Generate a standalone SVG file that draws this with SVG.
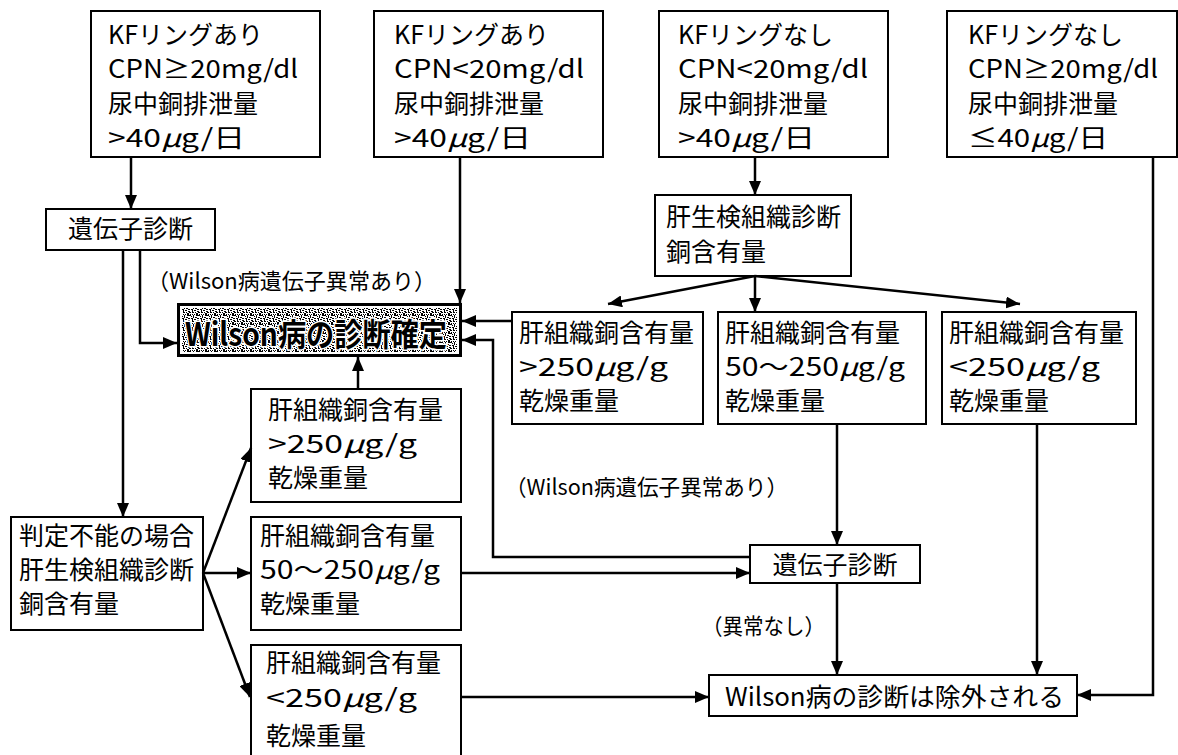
<svg xmlns="http://www.w3.org/2000/svg" width="1178" height="755" viewBox="0 0 1178 755">
<style>
.box{fill:#fff;stroke:#000;stroke-width:2}
.t{font-family:"Noto Sans CJK JP","Noto Sans",sans-serif;font-size:25px;fill:#000}
.lb{font-family:"Noto Sans CJK JP","Noto Sans",sans-serif;font-size:22px;fill:#000}
.c{fill:none;stroke:#000;stroke-width:2.5}
.mu{font-style:italic}
</style>
<defs>
<marker id="ah" markerWidth="14" markerHeight="12" refX="14" refY="6" orient="auto" markerUnits="userSpaceOnUse"><path d="M0 0L14 6L0 12z" fill="#000"/></marker>
<pattern id="speck" width="9" height="9" patternUnits="userSpaceOnUse">
<rect width="9" height="9" fill="#fff"/>
<path d="M0 0h2v1h-2zM4 1h1v2h-1zM7 0h2v1h-2zM2 3h2v1h-2zM6 4h1v1h-1zM0 5h1v2h-1zM3 6h2v1h-2zM7 7h2v2h-2zM5 8h1v1h-1zM1 8h1v1h-1zM8 3h1v1h-1zM5 4h1v1h-1zM2 1h1v1h-1zM6 2h2v1h-2zM0 3h1v1h-1zM3 4h1v2h-1zM8 5h1v1h-1zM1 6h1v1h-1zM6 6h1v1h-1zM3 8h1v1h-1zM4 0h1v1h-1z" fill="#000"/>
</pattern>
</defs>
<rect width="1178" height="755" fill="#fff"/>

<g id="b1"><rect class="box" x="91" y="11" width="229" height="146"/>
<text class="t" x="108" y="44">KFリングあり</text>
<text class="t" x="108" y="78" textLength="190" lengthAdjust="spacingAndGlyphs">CPN≥20mg/dl</text>
<text class="t" x="108" y="113">尿中銅排泄量</text>
<text class="t" x="108" y="147" textLength="137" lengthAdjust="spacingAndGlyphs">&gt;40<tspan class="mu">μ</tspan>g/日</text></g>

<g id="b2"><rect class="box" x="374" y="11" width="229" height="146"/>
<text class="t" x="394" y="44">KFリングあり</text>
<text class="t" x="394" y="78" textLength="190" lengthAdjust="spacingAndGlyphs">CPN&lt;20mg/dl</text>
<text class="t" x="394" y="113">尿中銅排泄量</text>
<text class="t" x="394" y="147" textLength="137" lengthAdjust="spacingAndGlyphs">&gt;40<tspan class="mu">μ</tspan>g/日</text></g>

<g id="b3"><rect class="box" x="659" y="11" width="229" height="146"/>
<text class="t" x="678" y="44">KFリングなし</text>
<text class="t" x="678" y="78" textLength="190" lengthAdjust="spacingAndGlyphs">CPN&lt;20mg/dl</text>
<text class="t" x="678" y="113">尿中銅排泄量</text>
<text class="t" x="678" y="147" textLength="137" lengthAdjust="spacingAndGlyphs">&gt;40<tspan class="mu">μ</tspan>g/日</text></g>

<g id="b4"><rect class="box" x="947" y="11" width="230" height="146"/>
<text class="t" x="968" y="44">KFリングなし</text>
<text class="t" x="968" y="78" textLength="190" lengthAdjust="spacingAndGlyphs">CPN≥20mg/dl</text>
<text class="t" x="968" y="113">尿中銅排泄量</text>
<text class="t" x="968" y="147" textLength="140" lengthAdjust="spacingAndGlyphs">≤40<tspan class="mu">μ</tspan>g/日</text></g>

<g id="gL"><rect class="box" x="46" y="209" width="169" height="41"/>
<text class="t" x="130.5" y="238" text-anchor="middle">遺伝子診断</text></g>

<g id="kanse"><rect class="box" x="655" y="195" width="196" height="81"/>
<text class="t" x="666" y="226">肝生検組織診断</text>
<text class="t" x="666" y="261">銅含有量</text></g>

<g id="wilson"><rect x="177" y="303" width="285" height="54" fill="#000"/>
<rect x="180" y="306" width="279" height="48" fill="#fff"/>
<rect x="182" y="308" width="275" height="44" fill="url(#speck)"/>
<text x="185" y="346" textLength="262" lengthAdjust="spacingAndGlyphs" font-family="Noto Sans CJK JP, sans-serif" font-size="32" font-weight="bold" fill="#000" stroke="#fff" stroke-width="3" paint-order="stroke">Wilson病の診断確定</text></g>

<g id="b8"><rect class="box" x="512" y="312" width="191" height="112"/>
<text class="t" x="519" y="342">肝組織銅含有量</text>
<text class="t" x="519" y="376" textLength="149" lengthAdjust="spacingAndGlyphs">&gt;250<tspan class="mu">μ</tspan>g/g</text>
<text class="t" x="519" y="410">乾燥重量</text></g>

<g id="b9"><rect class="box" x="718" y="312" width="208" height="112"/>
<text class="t" x="725" y="342">肝組織銅含有量</text>
<text class="t" x="725" y="376" textLength="180" lengthAdjust="spacingAndGlyphs">50〜250<tspan class="mu">μ</tspan>g/g</text>
<text class="t" x="725" y="410">乾燥重量</text></g>

<g id="b10"><rect class="box" x="942" y="312" width="194" height="112"/>
<text class="t" x="949" y="342">肝組織銅含有量</text>
<text class="t" x="949" y="376" textLength="151" lengthAdjust="spacingAndGlyphs">&lt;250<tspan class="mu">μ</tspan>g/g</text>
<text class="t" x="949" y="410">乾燥重量</text></g>

<g id="b5"><rect class="box" x="251" y="389" width="210" height="113"/>
<text class="t" x="268" y="419">肝組織銅含有量</text>
<text class="t" x="268" y="453" textLength="149" lengthAdjust="spacingAndGlyphs">&gt;250<tspan class="mu">μ</tspan>g/g</text>
<text class="t" x="268" y="487">乾燥重量</text></g>

<g id="hantei"><rect class="box" x="11" y="517" width="192" height="113"/>
<text class="t" x="19" y="545">判定不能の場合</text>
<text class="t" x="19" y="579">肝生検組織診断</text>
<text class="t" x="19" y="613">銅含有量</text></g>

<g id="b6"><rect class="box" x="251" y="517" width="210" height="113"/>
<text class="t" x="260" y="545">肝組織銅含有量</text>
<text class="t" x="260" y="579" textLength="180" lengthAdjust="spacingAndGlyphs">50〜250<tspan class="mu">μ</tspan>g/g</text>
<text class="t" x="260" y="613">乾燥重量</text></g>

<g id="b7"><rect class="box" x="251" y="645" width="210" height="120"/>
<text class="t" x="266" y="672">肝組織銅含有量</text>
<text class="t" x="266" y="707" textLength="151" lengthAdjust="spacingAndGlyphs">&lt;250<tspan class="mu">μ</tspan>g/g</text>
<text class="t" x="266" y="745">乾燥重量</text></g>

<g id="gR"><rect class="box" x="750" y="545" width="170" height="38"/>
<text class="t" x="835" y="574" text-anchor="middle">遺伝子診断</text></g>

<g id="except"><rect class="box" x="709" y="675" width="368" height="41"/>
<text class="t" x="725" y="706" textLength="339" lengthAdjust="spacingAndGlyphs">Wilson病の診断は除外される</text></g>

<g id="labels">
<text class="lb" x="147" y="289" textLength="289" lengthAdjust="spacingAndGlyphs">（Wilson病遺伝子異常あり）</text>
<text class="lb" x="505" y="495" textLength="283" lengthAdjust="spacingAndGlyphs">（Wilson病遺伝子異常あり）</text>
<text class="lb" x="702" y="634" textLength="123" lengthAdjust="spacingAndGlyphs">（異常なし）</text>
</g>

<g id="connectors">
<path class="c" marker-end="url(#ah)" d="M131 157V209"/>
<path class="c" marker-end="url(#ah)" d="M460 157V303"/>
<path class="c" marker-end="url(#ah)" d="M755 157V195"/>
<path class="c" marker-end="url(#ah)" d="M755 276L608 304"/>
<path class="c" marker-end="url(#ah)" d="M755 276V312"/>
<path class="c" marker-end="url(#ah)" d="M755 276L1020 304"/>
<path class="c" marker-end="url(#ah)" d="M140 250V343H177"/>
<path class="c" marker-end="url(#ah)" d="M123 250V517"/>
<path class="c" marker-end="url(#ah)" d="M512 321H462"/>
<path class="c" marker-end="url(#ah)" d="M750 557H493V340H462"/>
<path class="c" marker-end="url(#ah)" d="M358 389V357"/>
<path class="c" marker-end="url(#ah)" d="M203 573L251 448"/>
<path class="c" marker-end="url(#ah)" d="M203 573H251"/>
<path class="c" marker-end="url(#ah)" d="M203 573L250 697"/>
<path class="c" marker-end="url(#ah)" d="M461 573H750"/>
<path class="c" marker-end="url(#ah)" d="M837 424V545"/>
<path class="c" marker-end="url(#ah)" d="M837 583V675"/>
<path class="c" marker-end="url(#ah)" d="M1037 424V675"/>
<path class="c" marker-end="url(#ah)" d="M461 697H709"/>
<path class="c" marker-end="url(#ah)" d="M1153 157V695H1077"/>
</g>
</svg>
